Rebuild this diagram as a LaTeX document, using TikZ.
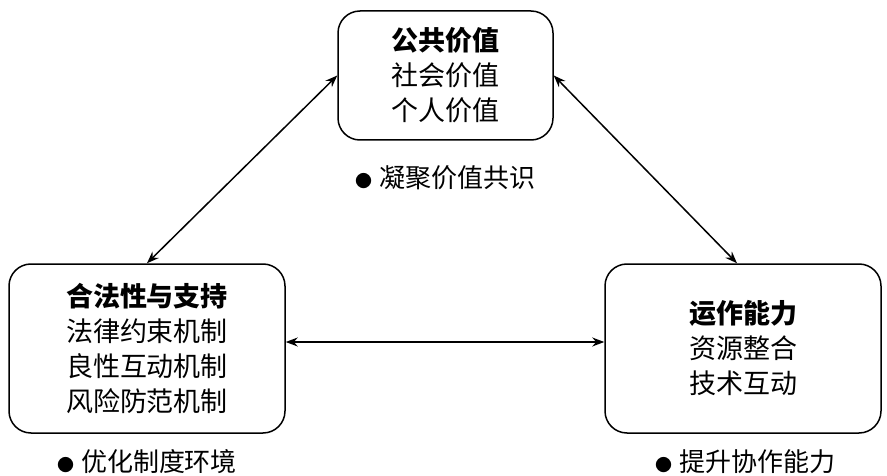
\documentclass[tikz,border=0pt]{standalone}
\usepackage{fontspec}
\newfontfamily\cjk{Noto Sans CJK SC}
\usepackage{tikz}
\usetikzlibrary{arrows.meta}

\newcommand{\dotmark}{{\fontsize{17}{17}\selectfont ●}\hspace{7pt}}

\begin{document}
\begin{tikzpicture}[x=1pt, y=-1pt, boxnode/.style={draw, line width=1.5pt, rounded corners=22pt, align=center, font=\cjk\fontsize{27}{35}\selectfont}, notenode/.style={font=\cjk\fontsize{26}{28}\selectfont}, twoway/.style={line width=1.5pt, {Stealth[length=12pt,width=9pt]}-{Stealth[length=12pt,width=9pt]}}]
	\useasboundingbox (0,0) rectangle (887,476);

	\node[boxnode, minimum width=215pt, minimum height=129pt] (pub) at (445.5,75.5) {\textbf{公共价值}\\社会价值\\个人价值};
	\node[boxnode, minimum width=276pt, minimum height=169pt] (leg) at (147,348.5) {\textbf{合法性与支持}\\法律约束机制\\良性互动机制\\风险防范机制};
	\node[boxnode, minimum width=276pt, minimum height=169pt] (ops) at (743,348.5) {\textbf{运作能力}\\资源整合\\技术互动};

	\node[notenode] (pubnote) at (445,178) {\dotmark 凝聚价值共识};
	\node[notenode] (legnote) at (147,462) {\dotmark 优化制度环境};
	\node[notenode] (opsnote) at (745,462) {\dotmark 提升协作能力};

	%arrows between the three boxes
	\draw[twoway] (pub.west) -- (leg.north);
	\draw[twoway] (pub.east) -- ([xshift=-6pt]ops.north);
	\draw[twoway] ([yshift=6.5pt]leg.east) -- ([yshift=6.5pt]ops.west);

\end{tikzpicture}
\end{document}
